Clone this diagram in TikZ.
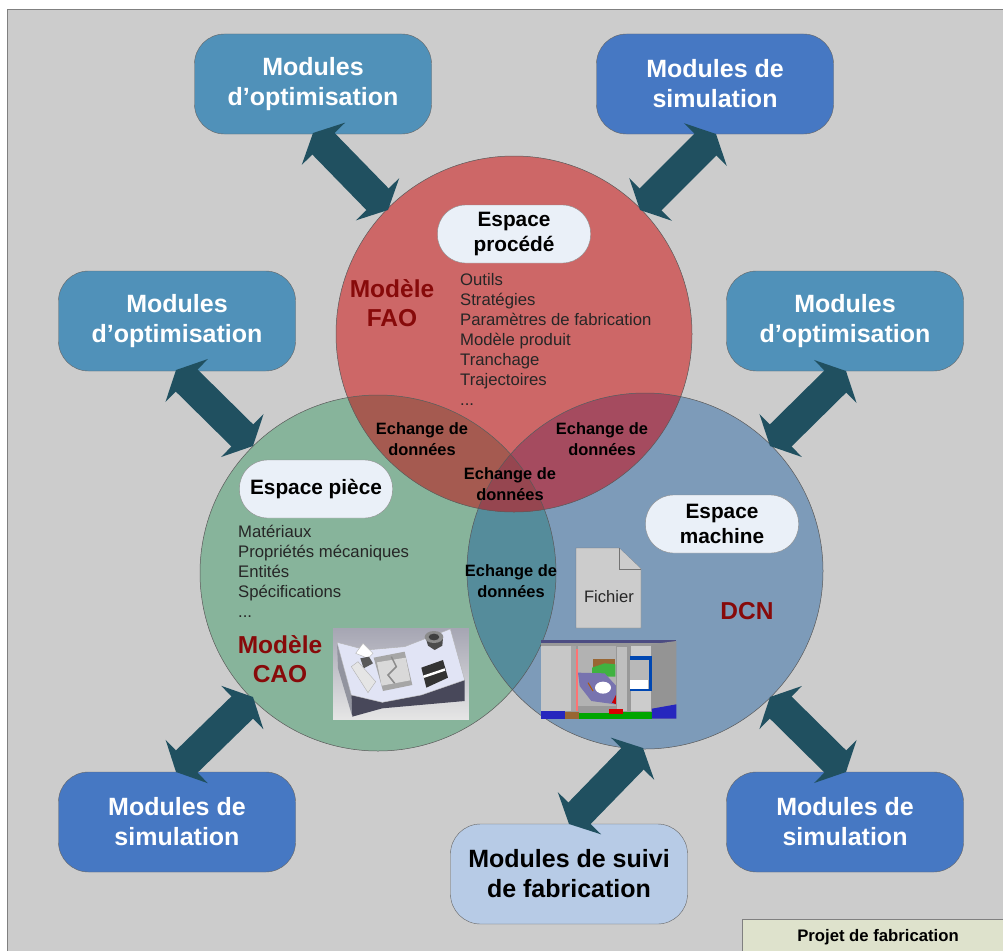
\documentclass[tikz,border=0pt]{standalone}
\usepackage{fontspec}
\setmainfont{Liberation Sans}
\usepackage{tikz}
\usetikzlibrary{arrows.meta}
\definecolor{bggray}{RGB}{204,204,204}
\definecolor{optblue}{RGB}{80,145,185}
\definecolor{simblue}{RGB}{70,120,195}
\definecolor{suiviblue}{RGB}{183,203,230}
\definecolor{arrowdark}{RGB}{32,80,96}
\definecolor{redzone}{RGB}{205,103,103}
\definecolor{greenzone}{RGB}{135,180,155}
\definecolor{bluezone}{RGB}{125,155,185}
\definecolor{rgzone}{RGB}{165,90,80}
\definecolor{rbzone}{RGB}{165,75,95}
\definecolor{gbzone}{RGB}{85,140,155}
\definecolor{allzone}{RGB}{150,70,80}
\definecolor{titlered}{RGB}{135,10,10}
\definecolor{espacefill}{RGB}{234,240,248}
\definecolor{legendfill}{RGB}{222,226,204}
\definecolor{platefill}{RGB}{225,228,245}
\definecolor{sidedark}{RGB}{72,72,90}
\definecolor{purplepart}{RGB}{120,115,175}
\tikzset{modbox/.style={shape=rectangle, draw=black!60, rounded corners=30pt,
    minimum width=237pt, minimum height=100pt, align=center, text=white,
    font=\fontsize{25}{30}\selectfont\bfseries}}
\tikzset{opt/.style={modbox, fill=optblue}}
\tikzset{sim/.style={modbox, fill=simblue}}
\tikzset{espace/.style={shape=rectangle, draw=black!45, fill=espacefill, rounded corners=28pt,
    minimum width=153pt, minimum height=58pt, align=center,
    font=\fontsize{20.8}{24.5}\selectfont\bfseries}}
\tikzset{zone/.style={draw=black!65, line width=.5pt}}
\tikzset{echange/.style={align=center, font=\fontsize{16.4}{20.5}\selectfont\bfseries}}
\tikzset{liste/.style={align=left, anchor=north west, inner sep=0pt, text=black!85,
    font=\fontsize{16.7}{20}\selectfont}}
\tikzset{modele/.style={align=center, text=titlered, font=\fontsize{24.5}{29}\selectfont\bfseries}}
\tikzset{fat/.style={line width=31pt, draw=arrowdark,
    {Triangle[length=15pt,width=60pt]}-{Triangle[length=15pt,width=60pt]}}}

\begin{document}
\begin{tikzpicture}[x=1pt,y=-1pt]
    \useasboundingbox (0,0) rectangle (1003,950);
    \clip (0,0) rectangle (1003,950);
    \fill[white] (0,0) rectangle (1003,950);
    \path[fill=bggray, draw=black!50] (7,9) rectangle (1010,960);

    % the three spaces
    \path[fill=redzone] (514,334) circle (178);
    \path[fill=greenzone] (378,573) circle (178);
    \path[fill=bluezone] (645,571) circle (178);
    \begin{scope}
      \clip (378,573) circle (178);
      \path[fill=gbzone] (645,571) circle (178);
    \end{scope}
    \begin{scope}
      \clip (514,334) circle (178);
      \path[fill=rgzone] (378,573) circle (178);
      \path[fill=rbzone] (645,571) circle (178);
      \clip (378,573) circle (178);
      \path[fill=allzone] (645,571) circle (178);
    \end{scope}
    \path[zone] (514,334) circle (178);
    \path[zone] (378,573) circle (178);
    \path[zone] (645,571) circle (178);

    % modules
    \node[opt] (opthaut) at (313,84) {Modules\\d’optimisation};
    \node[sim] (simhaut) at (715,84) {Modules de\\simulation};
    \node[opt] (optgauche) at (177,321) {Modules\\d’optimisation};
    \node[opt] (optdroite) at (845,321) {Modules\\d’optimisation};
    \node[sim] (simgauche) at (177,822) {Modules de\\simulation};
    \node[sim] (simdroite) at (845,822) {Modules de\\simulation};
    \node[modbox, fill=suiviblue, text=black] (suivi) at (569,874) {Modules de suivi\\de fabrication};

    % ends of the arrows
    \coordinate (a1) at (313,133);
    \coordinate (b1) at (388,210);
    \coordinate (a2) at (716,134);
    \coordinate (b2) at (640,210);
    \coordinate (a3) at (176,370);
    \coordinate (b3) at (253,446);
    \coordinate (a4) at (846,371);
    \coordinate (b4) at (770,446);
    \coordinate (a5) at (176,772);
    \coordinate (b5) at (253,697);
    \coordinate (a6) at (846,772);
    \coordinate (b6) at (770,697);
    \coordinate (a7) at (569,824);
    \coordinate (b7) at (643,748);
    \draw[fat] (a1) -- (b1);
    \draw[fat] (a2) -- (b2);
    \draw[fat] (a3) -- (b3);
    \draw[fat] (a4) -- (b4);
    \draw[fat] (a5) -- (b5);
    \draw[fat] (a6) -- (b6);
    \draw[fat] (a7) -- (b7);

    % texts in the circles
    \node[espace] (procede) at (514,234) {Espace\\procédé};
    \node[espace] (piece) at (316,489) {Espace pièce};
    \node[espace] (machine) at (722,524) {Espace\\machine};
    \node[liste] (listefao) at (460,273) {Outils\\Stratégies\\Paramètres de fabrication\\Modèle produit\\Tranchage\\Trajectoires\\...};
    \node[liste] (listecao) at (238,524.5) {Matériaux\\Propriétés mécaniques\\Entités\\Spécifications\\...};
    \node[modele] (fao) at (392,303) {Modèle\\FAO};
    \node[modele] (cao) at (280,659) {Modèle\\CAO};
    \node[modele] (dcn) at (747,611) {DCN};
    \node[echange] (ech1) at (422,439) {Echange de\\données};
    \node[echange] (ech2) at (602,439) {Echange de\\données};
    \node[echange] (ech3) at (510,484) {Echange de\\données};
    \node[echange] (ech4) at (511,581) {Echange de\\données};

    % file sheet
    \path[fill=bggray, draw=black!55] (576,548) to (619,548) to (641,569) to (641,628) to (576,628) to cycle;
    \path[fill=bggray, draw=black!55] (619,548) to (619,569) to (641,569);
    \node[font=\fontsize{16.6}{20}\selectfont, text=black!85] (fichier) at (609,597) {Fichier};

    % part picture
    \begin{scope}[shift={(333,625)},x=.3333pt,y=-.3333pt]
      \path[top color=blue!15!black!35, bottom color=black!10] (0,10) rectangle (408,284);
      \path[fill=black!35!platefill] (12,52) to (55,210) to (58,275) to (15,130) to cycle;
      \path[fill=sidedark] (55,210) to (148,232) to (265,210) to (395,165) to (395,228) to (148,250) to (58,275) to cycle;
      \path[fill=platefill, draw=black!30] (12,52) to (100,75) to (215,65) to (352,12) to (395,165) to (265,210) to (148,232) to (55,210) to cycle;
      \path[fill=black!35] (122,98) to (215,80) to (238,180) to (150,198) to cycle;
      \path[fill=black!15] (132,112) to (218,98) to (232,166) to (146,182) to cycle;
      \draw[black!45, line width=1.5pt] (175,95) to (190,125) to (165,150) to (185,175);
      \path[fill=white, draw=black!30] (68,85) to (90,55) to (120,85) to (105,100) to cycle;
      \path[fill=black!65] (82,100) to (108,95) to (120,115) to (92,130) to cycle;
      \path[fill=white!90!black, draw=black!30] (55,125) to (75,110) to (128,170) to (105,203) to cycle;
      \path[fill=black!70] (278,38) to (330,38) to (328,62) to (305,75) to (285,62) to cycle;
      \path[fill=black!45] (303,36) circle[x radius=28, y radius=18];
      \path[fill=black!75] (303,36) circle[x radius=16, y radius=10];
      \path[fill=black!80] (265,128) to (330,105) to (345,158) to (280,188) to cycle;
      \path[fill=white] (270,152) to (335,130) to (337,137) to (272,159) to cycle;
    \end{scope}

    % machine picture
    \begin{scope}[shift={(538,636)},x=.3333pt,y=-.3333pt]
      \path[fill=black!40] (8,12) rectangle (415,248);
      \path[fill=blue!30!black!70] (8,12) rectangle (415,22);
      \path[fill=black!22] (8,30) rectangle (100,225);
      \path[fill=black!35] (100,30) rectangle (115,225);
      \path[fill=white!45!red] (115,40) rectangle (120,225);
      \path[fill=black!30] (120,30) rectangle (235,210);
      \path[fill=brown!80!black] (165,68) rectangle (232,95);
      \path[fill=green!60!black!75] (162,95) to (200,82) to (232,85) to (232,122) to (162,122) to cycle;
      \path[fill=purplepart] (120,110) to (200,112) to (235,150) to (232,205) to (160,195) to (125,150) to cycle;
      \path[fill=white] (195,155) circle[x radius=24, y radius=18];
      \draw[orange!70!black, line width=1pt] (150,140) to (165,165);
      \path[fill=red!80!black] (222,200) to (235,175) to (235,205) to cycle;
      \path[fill=black!25, draw=black!40] (235,30) rectangle (268,225);
      \path[fill=black!20] (280,30) rectangle (340,225);
      \path[fill=black!42] (340,25) to (415,15) to (415,205) to (340,222) to cycle;
      \path[fill=blue!60!cyan!70!black] (275,60) rectangle (342,165);
      \path[fill=black!28] (275,72) rectangle (332,160);
      \path[fill=white] (275,132) rectangle (330,160);
      \path[fill=blue!70!black!85] (8,225) rectangle (80,248);
      \path[fill=brown!80!black] (80,228) rectangle (122,248);
      \path[fill=green!65!black] (122,232) rectangle (212,248);
      \path[fill=green!65!black] (212,228) rectangle (342,248);
      \path[fill=red!85!black] (212,218) rectangle (255,235);
      \path[fill=blue!70!black!85] (342,218) to (415,205) to (415,248) to (342,248) to cycle;
    \end{scope}

    % legend
    \node[shape=rectangle, draw=black!50, fill=legendfill, minimum width=290pt, minimum height=40pt,
      anchor=north west] (projet) at (742,919) {};
    \node[font=\fontsize{16.7}{20}\selectfont\bfseries] (projettxt) at (878,937) {Projet de fabrication};
\end{tikzpicture}
\end{document}
